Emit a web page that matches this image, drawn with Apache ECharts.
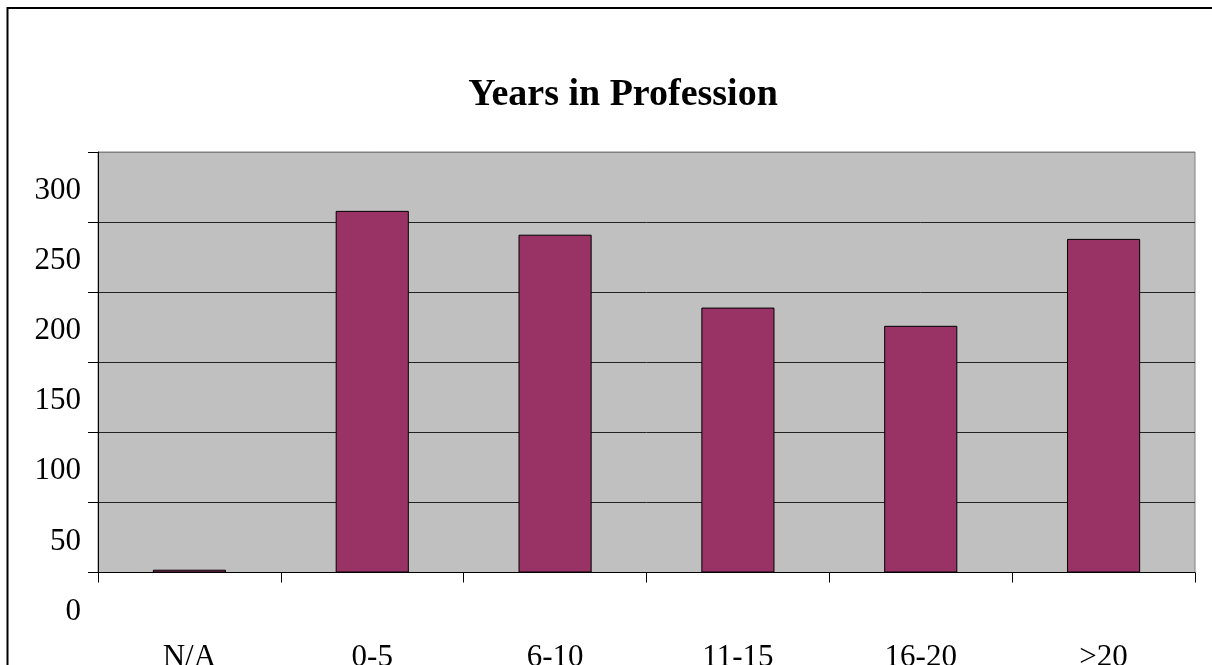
<!DOCTYPE html>
<html>
<head>
<meta charset="utf-8">
<script src="https://cdn.jsdelivr.net/npm/echarts@6/dist/echarts.min.js"></script>
<style>
html,body{margin:0;padding:0;background:#fff;overflow:hidden;}
#chart{width:1212px;height:665px;}
</style>
</head>
<body>
<div id="chart"></div>
<script>
var categories = ['N/A', '0-5', '6-10', '11-15', '16-20', '>20'];
var counts = [2, 258, 241, 189, 176, 238];
var yTicks = [0, 50, 100, 150, 200, 250, 300];
var titleText = 'Years in Profession';

var chart = echarts.init(document.getElementById('chart'));
var font = '"Liberation Serif", "Times New Roman", serif';
chart.setOption({
  backgroundColor: '#ffffff',
  animation: false,
  title: {
    text: titleText,
    left: 618,
    top: 71,
    textAlign: 'center',
    textStyle: { fontFamily: font, fontWeight: 'bold', fontSize: 38, color: '#000' }
  },
  graphic: [{
    type: 'rect',
    shape: { x: 7.5, y: 8, width: 1300, height: 800 },
    style: { fill: 'none', stroke: '#000', lineWidth: 2 },
    silent: true,
    z: 100
  }],
  grid: {
    left: 98, right: 17, top: 152, bottom: 92.5,
    containLabel: false,
    outerBoundsMode: 'none',
    show: true, backgroundColor: '#c0c0c0', borderColor: '#808080', borderWidth: 1
  },
  xAxis: {
    type: 'category',
    data: categories,
    axisLine: { lineStyle: { color: '#000', width: 1 } },
    axisTick: { show: true, length: 10, lineStyle: { color: '#000' } },
    axisLabel: { margin: 70, fontFamily: font, fontSize: 31, color: '#000' },
    splitLine: { show: false }
  },
  yAxis: {
    type: 'value',
    min: yTicks[0], max: yTicks[yTicks.length - 1], interval: 50,
    axisLine: { show: true, lineStyle: { color: '#000', width: 1 } },
    axisTick: { show: true, length: 10, lineStyle: { color: '#000' } },
    axisLabel: { margin: 17, fontFamily: font, fontSize: 31, color: '#000', verticalAlign: 'top', lineHeight: 40, padding: [19, 0, 0, 0], showMinLabel: true, showMaxLabel: true, hideOverlap: false },
    splitLine: { show: true, lineStyle: { color: ['#000', '#222', '#222', '#222', '#222', '#222', '#808080'], width: 1 } }
  },
  series: [{
    type: 'bar',
    data: counts,
    barCategoryGap: '60%',
    itemStyle: { color: '#993366', borderColor: '#000', borderWidth: 1 }
  }]
});
</script>
</body>
</html>
